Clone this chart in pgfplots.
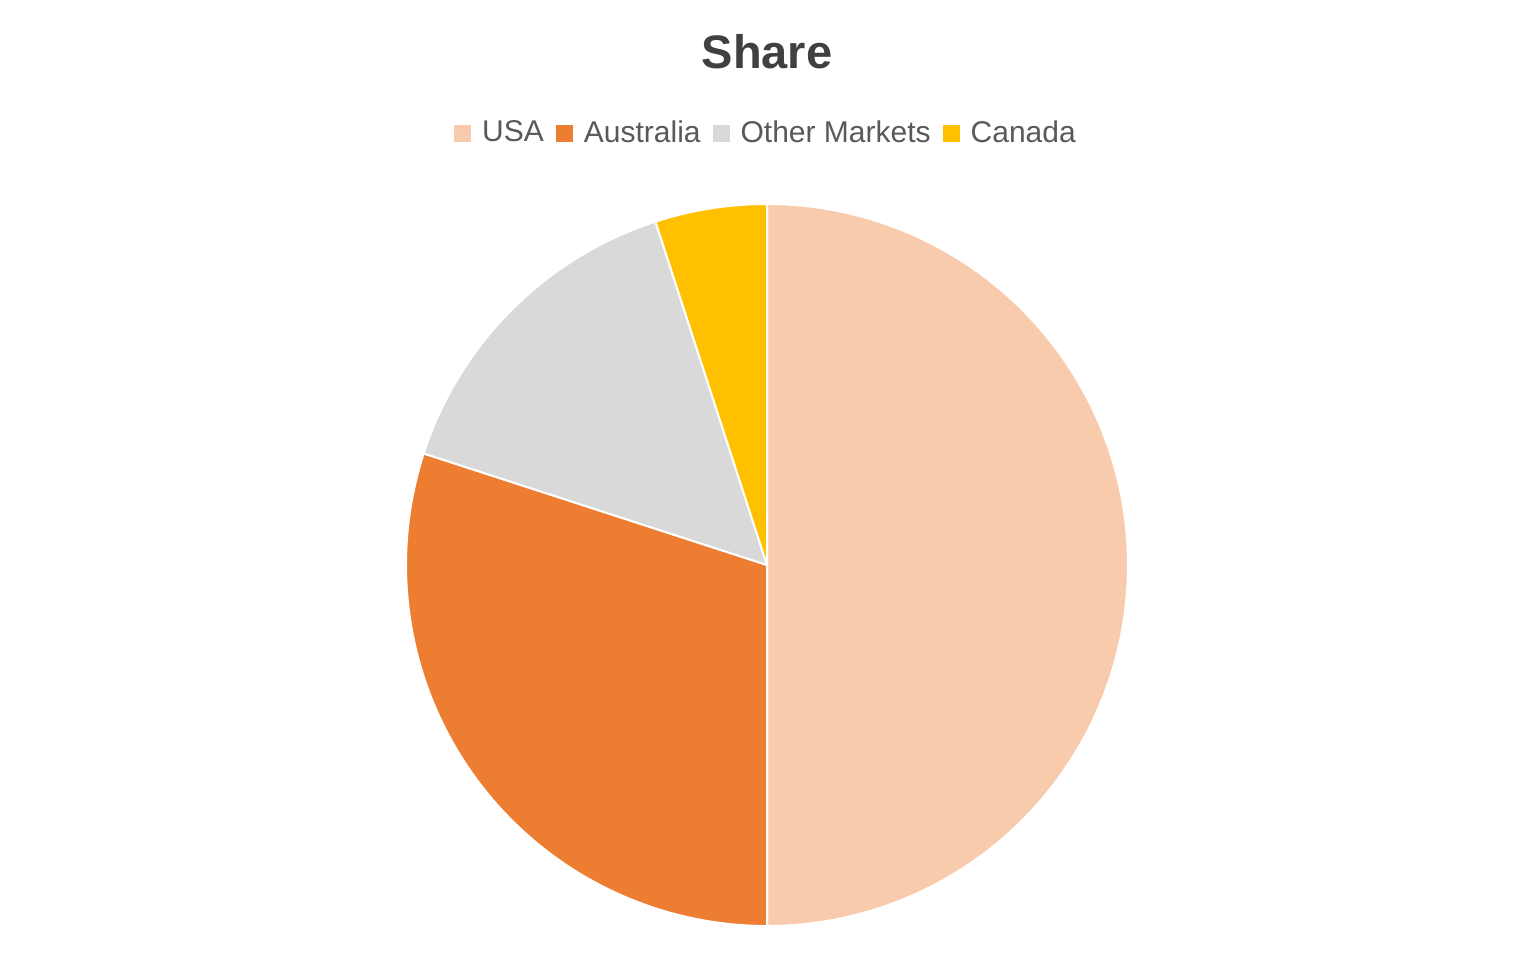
\documentclass[border=0pt]{standalone}
\usepackage{pgfplots}
\pgfplotsset{compat=1.18}
\usepackage{pgfplotstable}
\usepackage{fontspec}
\setmainfont{Liberation Sans}

\definecolor{cUSA}{HTML}{F8CBAD}
\definecolor{cAus}{HTML}{ED7D31}
\definecolor{cOther}{HTML}{D9D9D9}
\definecolor{cCan}{HTML}{FFC000}
\definecolor{txtgray}{HTML}{595959}
\definecolor{titlegray}{HTML}{404040}

% share of each market, in percent
\pgfplotstableread{
label share
USA 50
Australia 30
{Other Markets} 15
Canada 5
}\sharetable

% one wedge per row, clockwise from the top
\def\slicestart{0}
\newcommand{\slice}[2]{%
  \pgfplotstablegetelem{#1}{share}\of\sharetable
  \pgfmathsetmacro{\sliceend}{\slicestart+\pgfplotsretval}%
  \edef\temp{\noexpand\addplot[fill=#2, draw=white, line width=1pt,
    domain=\slicestart:\sliceend, samples=120, variable=\noexpand\t]
    ({sin(3.6*\noexpand\t)},{cos(3.6*\noexpand\t)}) -- (axis cs:0,0) -- cycle;}%
  \temp
  \global\let\slicestart\sliceend
}

\begin{document}
\begin{tikzpicture}
\useasboundingbox (0,0) rectangle (768pt,482pt);
\node[font=\bfseries\fontsize{23.5}{28}\selectfont, text=titlegray] at (383.5pt,456pt) {Share};
\begin{axis}[
    at={(383.5pt,199.5pt)}, anchor=center,
    width=361pt, height=361pt, scale only axis,
    xmin=-1, xmax=1, ymin=-1, ymax=1,
    hide axis, clip=false,
    legend columns=-1,
    legend style={draw=none, fill=none, at={(0.5,1.0983)}, anchor=center,
        font=\fontsize{15}{18}\selectfont, text=txtgray,
        /tikz/every even column/.append style={column sep=4pt}},
    legend image code/.code={\fill[#1, draw=none] (0pt,-4.25pt) rectangle (8.5pt,4.25pt);
        \path[draw=none, fill=none] (0pt,0pt) -- (12pt,0pt);},
]
\slice{0}{cUSA}
\slice{1}{cAus}
\slice{2}{cOther}
\slice{3}{cCan}
\legend{USA, Australia, Other Markets, Canada}
\end{axis}
\end{tikzpicture}
\end{document}
